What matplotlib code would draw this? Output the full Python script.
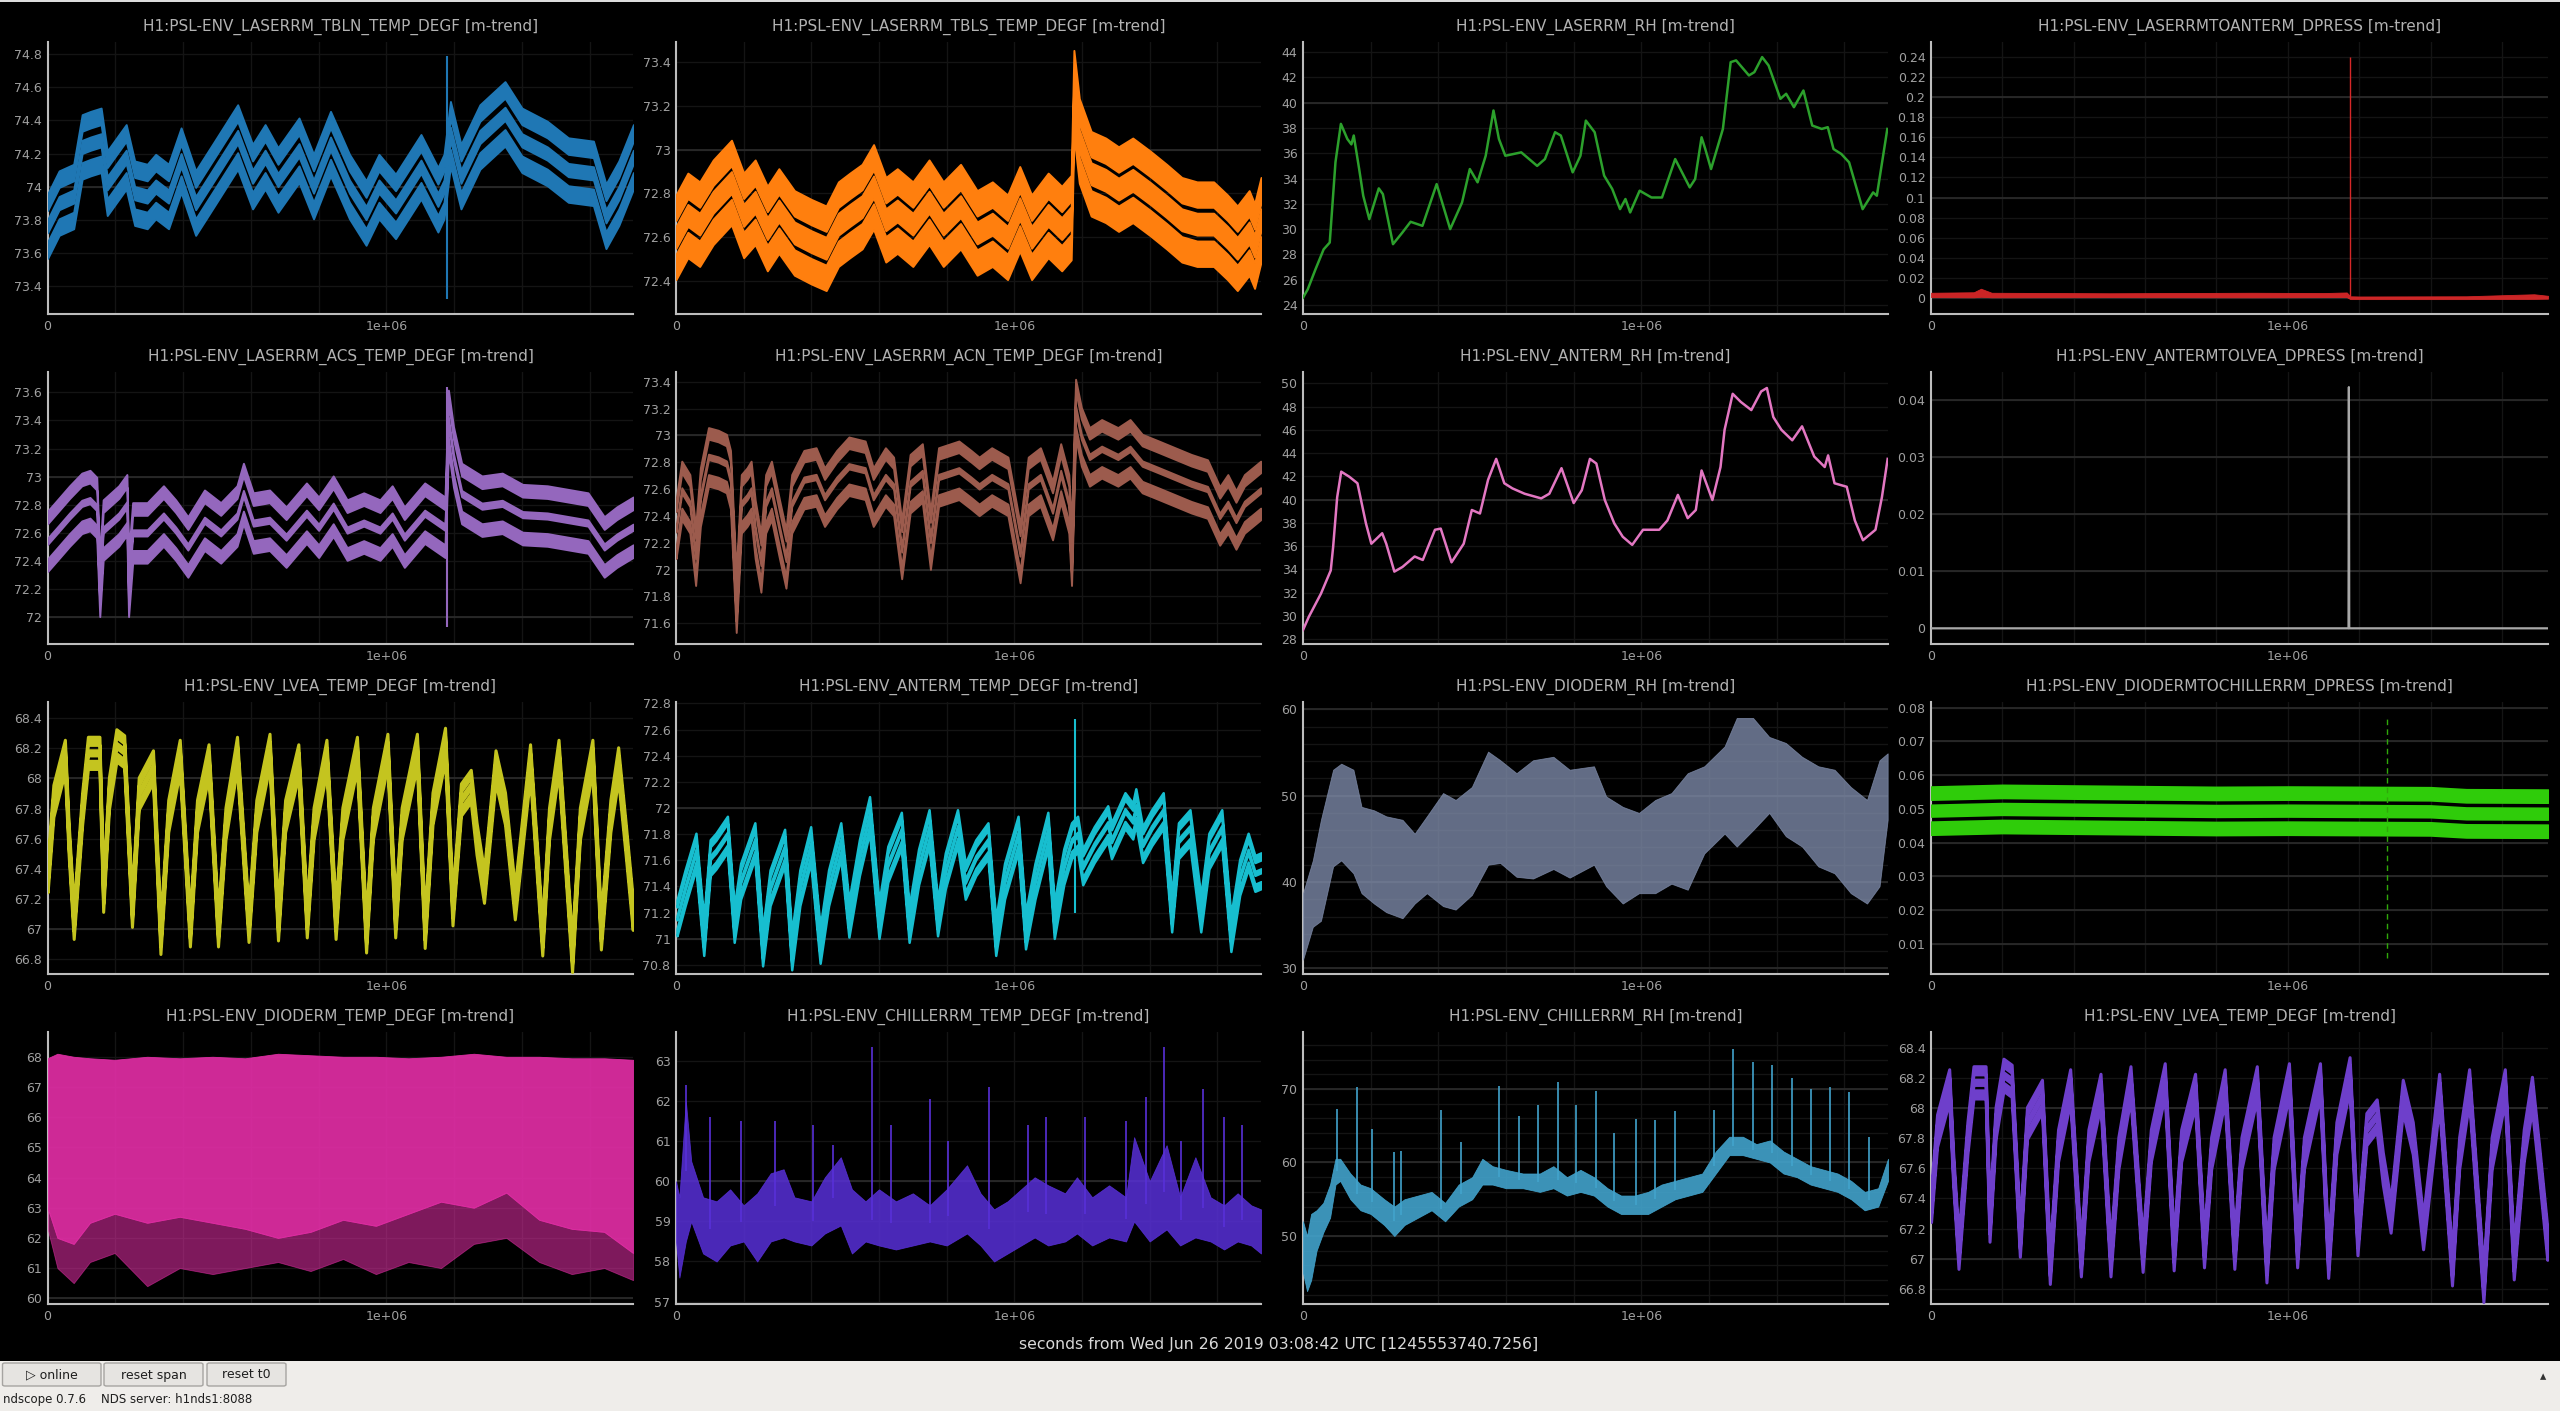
"""ndscope-style 4x4 grid of PSL environment minute trends, redrawn with matplotlib.

Values were read off a screenshot by eye; times are in units of 1e6 s
from the ndscope t0, values in the channel's own units.
"""
import matplotlib
matplotlib.use("Agg")
import matplotlib.pyplot as plt
import matplotlib.patches as mpatches
import matplotlib.ticker as mticker
import numpy as np

W, H, DPI = 2560, 1411, 100
T_END = 1.729e6

# ---- data (t in 1e6 s) -------------------------------------------------------
TBLN_T = [0.000, 0.034, 0.077, 0.102, 0.127, 0.158, 0.176, 0.232, 0.257, 0.294,
          0.319, 0.357, 0.394, 0.437, 0.493, 0.561, 0.605, 0.642, 0.680, 0.742,
          0.785, 0.835, 0.891, 0.940, 0.978, 1.027, 1.102, 1.152, 1.170, 1.189,
          1.220, 1.276, 1.350, 1.400, 1.475, 1.537, 1.611, 1.648, 1.686, 1.729]
TBLN_MEAN = [73.76, 73.90, 73.94, 74.24, 74.26, 74.28, 74.02, 74.18, 73.96, 73.94,
             74.00, 73.94, 74.16, 73.90, 74.08, 74.30, 74.06, 74.18, 74.04, 74.22,
             74.00, 74.26, 74.00, 73.84, 74.00, 73.88, 74.12, 73.92, 74.00, 74.32,
             74.06, 74.30, 74.44, 74.28, 74.20, 74.10, 74.08, 73.82, 73.96, 74.18]
TBLN_SPIKE_T, TBLN_SPIKE_LO, TBLN_SPIKE_HI = [1.179], [73.32], [74.79]

TBLS_T = [0.000, 0.035, 0.070, 0.110, 0.164, 0.200, 0.234, 0.270, 0.304, 0.350,
          0.400, 0.444, 0.480, 0.514, 0.550, 0.584, 0.620, 0.654, 0.700, 0.748,
          0.790, 0.841, 0.890, 0.935, 0.980, 1.016, 1.051, 1.100, 1.140, 1.168,
          1.176, 1.192, 1.227, 1.270, 1.308, 1.350, 1.402, 1.450, 1.495, 1.540,
          1.589, 1.630, 1.659, 1.694, 1.710, 1.729]
TBLS_MEAN = [72.60, 72.70, 72.66, 72.76, 72.85, 72.70, 72.76, 72.64, 72.72, 72.62,
             72.58, 72.55, 72.66, 72.70, 72.74, 72.83, 72.68, 72.72, 72.66, 72.76,
             72.66, 72.74, 72.62, 72.66, 72.60, 72.73, 72.60, 72.70, 72.64, 72.69,
             73.26, 73.04, 72.89, 72.86, 72.82, 72.86, 72.80, 72.74, 72.68, 72.66,
             72.66, 72.60, 72.55, 72.62, 72.56, 72.68]

LRH_T = [0.000, 0.014, 0.037, 0.061, 0.079, 0.084, 0.096, 0.112, 0.131, 0.143,
         0.150, 0.166, 0.178, 0.196, 0.224, 0.236, 0.266, 0.294, 0.318, 0.353,
         0.395, 0.435, 0.470, 0.493, 0.516, 0.540, 0.563, 0.579, 0.598, 0.645,
         0.692, 0.715, 0.745, 0.762, 0.797, 0.820, 0.836, 0.862, 0.890, 0.914,
         0.937, 0.953, 0.967, 0.995, 1.030, 1.061, 1.100, 1.143, 1.159, 1.178,
         1.189, 1.206, 1.241, 1.264, 1.280, 1.318, 1.334, 1.357, 1.376, 1.411,
         1.428, 1.451, 1.479, 1.505, 1.533, 1.551, 1.568, 1.591, 1.614, 1.654,
         1.685, 1.696, 1.727]
LRH_V = [24.58, 25.24, 26.83, 28.40, 28.94, 30.80, 35.30, 38.32, 37.13, 36.70,
         37.40, 34.75, 32.64, 30.79, 33.22, 32.77, 28.81, 29.74, 30.58, 30.26,
         33.56, 30.00, 32.10, 34.75, 33.70, 35.80, 39.38, 37.13, 35.80, 36.07,
         35.00, 35.54, 37.66, 37.40, 34.49, 35.80, 38.58, 37.66, 34.23, 33.17,
         31.58, 32.38, 31.32, 33.04, 32.50, 32.50, 35.54, 33.30, 33.96, 37.26,
         36.33, 34.75, 37.92, 43.20, 43.34, 42.15, 42.41, 43.60, 42.94, 40.30,
         40.70, 39.64, 40.96, 38.19, 37.92, 38.06, 36.33, 35.94, 35.28, 31.58,
         32.90, 32.64, 37.92]

DP1_T = [0.000, 0.120, 0.140, 0.170, 0.500, 0.900, 1.100, 1.165, 1.175, 1.200,
         1.500, 1.690, 1.729]
DP1_LO = [0.0012, 0.0010, 0.0015, 0.0010, 0.0012, 0.0010, 0.0012, 0.0012, -0.0008,
          -0.0008, -0.0008, -0.0006, -0.0004]
DP1_HI = [0.0055, 0.0060, 0.0095, 0.0055, 0.0050, 0.0055, 0.0052, 0.0058, 0.0020,
          0.0018, 0.0020, 0.0040, 0.0025]
DP1_SPIKE_T, DP1_SPIKE_LO, DP1_SPIKE_HI = [1.173], [0.002], [0.240]

ACS_T = [0.000, 0.029, 0.065, 0.101, 0.125, 0.145, 0.154, 0.164, 0.210, 0.234,
         0.239, 0.251, 0.294, 0.342, 0.378, 0.414, 0.463, 0.511, 0.559, 0.578,
         0.607, 0.655, 0.704, 0.764, 0.800, 0.843, 0.884, 0.933, 0.981, 1.017,
         1.053, 1.113, 1.173, 1.183, 1.198, 1.222, 1.282, 1.342, 1.402, 1.475,
         1.547, 1.595, 1.643, 1.680, 1.728]
ACS_MEAN = [72.54, 72.62, 72.72, 72.81, 72.83, 72.78, 72.22, 72.62, 72.72, 72.80,
            72.22, 72.60, 72.60, 72.72, 72.62, 72.50, 72.69, 72.60, 72.72, 72.88,
            72.67, 72.69, 72.57, 72.74, 72.64, 72.79, 72.62, 72.67, 72.62, 72.72,
            72.57, 72.74, 72.64, 73.40, 73.14, 72.88, 72.79, 72.81, 72.73, 72.72,
            72.69, 72.67, 72.50, 72.57, 72.64]
ACS_SPIKE_T, ACS_SPIKE_LO, ACS_SPIKE_HI = [1.178], [71.93], [73.64]

ACN_T = [0.000, 0.017, 0.041, 0.058, 0.072, 0.096, 0.125, 0.149, 0.161, 0.178,
         0.193, 0.210, 0.222, 0.234, 0.251, 0.265, 0.282, 0.306, 0.325, 0.342,
         0.378, 0.414, 0.439, 0.475, 0.511, 0.559, 0.583, 0.619, 0.643, 0.667,
         0.692, 0.728, 0.752, 0.776, 0.836, 0.872, 0.896, 0.933, 0.981, 1.017,
         1.041, 1.077, 1.113, 1.137, 1.161, 1.169, 1.181, 1.198, 1.222, 1.258,
         1.306, 1.342, 1.378, 1.427, 1.475, 1.523, 1.571, 1.607, 1.631, 1.655,
         1.680, 1.728]
ACN_MEAN = [72.30, 72.59, 72.49, 72.10, 72.54, 72.84, 72.82, 72.79, 72.67, 71.75,
            72.49, 72.54, 72.59, 72.30, 72.05, 72.49, 72.59, 72.30, 72.08, 72.49,
            72.67, 72.69, 72.54, 72.67, 72.77, 72.74, 72.54, 72.69, 72.62, 72.15,
            72.64, 72.72, 72.22, 72.69, 72.74, 72.67, 72.62, 72.69, 72.62, 72.12,
            72.62, 72.69, 72.44, 72.72, 72.49, 72.10, 73.20, 72.99, 72.84, 72.90,
            72.84, 72.90, 72.79, 72.74, 72.69, 72.64, 72.60, 72.40, 72.49, 72.37,
            72.49, 72.59]

ARH_T = [0.000, 0.017, 0.053, 0.082, 0.089, 0.101, 0.113, 0.137, 0.161, 0.186,
         0.202, 0.234, 0.246, 0.270, 0.294, 0.330, 0.354, 0.390, 0.407, 0.439,
         0.475, 0.499, 0.523, 0.547, 0.571, 0.595, 0.619, 0.655, 0.704, 0.728,
         0.764, 0.800, 0.824, 0.848, 0.867, 0.892, 0.920, 0.945, 0.973, 1.005,
         1.053, 1.077, 1.108, 1.137, 1.161, 1.178, 1.210, 1.234, 1.246, 1.270,
         1.294, 1.325, 1.354, 1.371, 1.390, 1.414, 1.446, 1.475, 1.511, 1.542,
         1.552, 1.571, 1.607, 1.631, 1.655, 1.692, 1.711, 1.728]
ARH_V = [28.77, 29.90, 31.90, 33.90, 35.90, 40.20, 42.40, 41.96, 41.40, 37.95,
         36.20, 37.10, 36.20, 33.80, 34.20, 35.10, 34.80, 37.40, 37.50, 34.60,
         36.20, 39.10, 38.80, 41.70, 43.50, 41.40, 40.96, 40.50, 40.10, 40.50,
         42.70, 39.70, 40.80, 43.50, 43.10, 39.96, 37.95, 36.80, 36.10, 37.40,
         37.40, 38.20, 40.40, 38.40, 39.10, 42.50, 39.96, 42.80, 46.00, 49.10,
         48.40, 47.70, 49.30, 49.60, 47.10, 46.00, 45.10, 46.30, 43.70, 42.80,
         43.80, 41.40, 41.10, 38.20, 36.50, 37.40, 40.20, 43.50]

DP2_T = [0.000, 1.170, 1.171, 1.172, 1.729]
DP2_V = [0.0, 0.0, 0.0423, 0.0, 0.0]

LVEA_T = [0.000, 0.017, 0.051, 0.062, 0.077, 0.102, 0.119, 0.153, 0.164, 0.181,
          0.203, 0.226, 0.249, 0.269, 0.311, 0.333, 0.356, 0.390, 0.420, 0.441,
          0.475, 0.503, 0.525, 0.559, 0.593, 0.616, 0.655, 0.680, 0.701, 0.740,
          0.765, 0.785, 0.823, 0.850, 0.870, 0.913, 0.940, 0.960, 1.003, 1.026,
          1.045, 1.090, 1.113, 1.136, 1.173, 1.195, 1.220, 1.249, 1.266, 1.288,
          1.322, 1.350, 1.379, 1.424, 1.460, 1.480, 1.508, 1.548, 1.571, 1.608,
          1.633, 1.661, 1.684, 1.706, 1.727]
LVEA_MEAN = [67.35, 67.85, 68.15, 67.60, 67.04, 67.80, 68.17, 68.17, 67.22, 67.90,
             68.22, 68.18, 67.12, 67.90, 68.08, 66.94, 67.75, 68.15, 66.99, 67.75,
             68.12, 66.99, 67.70, 68.17, 67.02, 67.75, 68.19, 67.03, 67.75, 68.12,
             67.05, 67.70, 68.15, 67.04, 67.70, 68.17, 66.95, 67.70, 68.19, 67.05,
             67.70, 68.19, 66.98, 67.80, 68.23, 67.13, 67.86, 67.95, 67.60, 67.28,
             68.08, 67.80, 67.17, 68.12, 66.93, 67.70, 68.15, 66.82, 67.70, 68.15,
             66.97, 67.75, 68.10, 67.60, 67.10]

ATEMP_T = [0.003, 0.027, 0.059, 0.082, 0.101, 0.118, 0.152, 0.172, 0.191, 0.233,
           0.256, 0.278, 0.321, 0.342, 0.366, 0.398, 0.426, 0.451, 0.487, 0.511,
           0.542, 0.572, 0.600, 0.626, 0.666, 0.689, 0.717, 0.748, 0.773, 0.796,
           0.832, 0.855, 0.886, 0.922, 0.945, 0.971, 1.011, 1.033, 1.061, 1.099,
           1.118, 1.146, 1.169, 1.187, 1.202, 1.236, 1.276, 1.287, 1.327, 1.350,
           1.359, 1.379, 1.406, 1.440, 1.465, 1.485, 1.519, 1.551, 1.575, 1.613,
           1.640, 1.666, 1.691, 1.711, 1.729]
ATEMP_MEAN = [71.16, 71.39, 71.67, 71.01, 71.62, 71.67, 71.80, 71.11, 71.44, 71.75,
              70.93, 71.39, 71.70, 70.90, 71.39, 71.72, 70.95, 71.39, 71.75, 71.15,
              71.62, 71.95, 71.14, 71.57, 71.83, 71.11, 71.55, 71.85, 71.16, 71.52,
              71.85, 71.44, 71.62, 71.75, 71.01, 71.44, 71.80, 71.06, 71.44, 71.83,
              71.14, 71.55, 71.75, 71.80, 71.55, 71.72, 71.88, 71.75, 71.98, 71.90,
              72.01, 71.72, 71.85, 71.98, 71.19, 71.75, 71.85, 71.19, 71.67, 71.85,
              71.04, 71.47, 71.67, 71.50, 71.52]
ATEMP_SPIKE_T, ATEMP_SPIKE_LO, ATEMP_SPIKE_HI = [1.178], [71.20], [72.68]

DRH_T = [0.000, 0.029, 0.053, 0.089, 0.113, 0.149, 0.173, 0.210, 0.246, 0.294,
         0.330, 0.366, 0.414, 0.451, 0.499, 0.547, 0.583, 0.631, 0.680, 0.740,
         0.788, 0.860, 0.896, 0.945, 0.993, 1.041, 1.089, 1.137, 1.186, 1.246,
         1.282, 1.330, 1.378, 1.427, 1.475, 1.523, 1.571, 1.619, 1.667, 1.704,
         1.728]
DRH_HI = [38.7, 42.5, 47.2, 53.0, 53.7, 53.0, 48.7, 48.3, 47.6, 47.2,
          45.6, 47.6, 50.3, 49.5, 51.0, 55.1, 54.1, 52.6, 54.1, 54.5,
          53.0, 53.4, 49.9, 48.7, 48.0, 49.5, 50.3, 52.6, 53.4, 55.7,
          59.0, 59.0, 56.8, 56.1, 54.5, 53.4, 53.0, 51.0, 49.5, 54.1,
          54.9]
DRH_LO = [31.0, 34.8, 35.5, 41.8, 42.5, 41.0, 38.7, 37.5, 36.5, 35.8,
          37.5, 38.7, 37.2, 36.8, 38.5, 42.0, 42.2, 40.6, 40.4, 41.5,
          40.5, 42.0, 39.5, 37.5, 38.7, 38.7, 39.8, 39.1, 43.3, 45.6,
          44.1, 46.0, 48.0, 45.3, 44.1, 41.8, 41.0, 38.7, 37.5, 39.5,
          47.2]

DP3_T = [0.0, 0.2, 0.4, 0.6, 0.8, 1.0, 1.2, 1.4, 1.5, 1.729]
DP3_MEAN = [0.0495, 0.0500, 0.0498, 0.0496, 0.0494, 0.0495, 0.0494, 0.0493, 0.0487, 0.0486]
DP3_GLITCH_T, DP3_GLITCH_LO, DP3_GLITCH_HI = [1.277], [0.0058], [0.0773]

DTEMP_T = [0.000, 0.029, 0.077, 0.125, 0.198, 0.294, 0.390, 0.487, 0.583, 0.680,
           0.776, 0.872, 0.969, 1.065, 1.161, 1.258, 1.354, 1.451, 1.547, 1.643,
           1.728]
DTEMP_HI = [67.95, 68.10, 68.00, 67.95, 67.90, 68.00, 67.95, 68.00, 67.95, 68.10,
            68.05, 68.00, 68.00, 67.95, 68.00, 68.10, 68.00, 68.00, 67.95, 67.95,
            67.90]
DTEMP_LO = [63.0, 62.0, 61.8, 62.5, 62.8, 62.5, 62.7, 62.5, 62.3, 62.0,
            62.2, 62.6, 62.4, 62.8, 63.2, 63.0, 63.5, 62.6, 62.3, 62.2,
            61.5]
DTEMP_MIN = [62.3, 61.0, 60.5, 61.2, 61.5, 60.4, 61.0, 60.8, 61.0, 61.2,
             60.9, 61.3, 60.8, 61.2, 61.0, 61.8, 62.0, 61.2, 60.8, 61.0,
             60.6]

CTEMP_T = [0.000, 0.010, 0.029, 0.045, 0.080, 0.120, 0.160, 0.200, 0.240, 0.280,
           0.318, 0.350, 0.400, 0.440, 0.487, 0.520, 0.560, 0.600, 0.650, 0.700,
           0.750, 0.800, 0.860, 0.900, 0.940, 0.980, 1.020, 1.060, 1.100, 1.150,
           1.185, 1.230, 1.280, 1.330, 1.354, 1.400, 1.450, 1.490, 1.535, 1.580,
           1.620, 1.660, 1.700, 1.729]
CTEMP_LO = [58.5, 57.6, 58.5, 59.0, 58.2, 58.0, 58.4, 58.5, 58.0, 58.5,
            58.6, 58.5, 58.4, 58.7, 58.9, 58.2, 58.5, 58.4, 58.3, 58.4,
            58.5, 58.4, 58.7, 58.4, 58.0, 58.2, 58.4, 58.6, 58.4, 58.5,
            58.7, 58.4, 58.6, 58.5, 59.0, 58.5, 58.8, 58.4, 58.6, 58.5,
            58.3, 58.5, 58.4, 58.2]
CTEMP_HI = [60.0, 59.6, 62.0, 60.5, 59.6, 59.5, 59.8, 59.4, 59.7, 60.2,
            60.3, 59.6, 59.5, 60.1, 60.6, 59.8, 59.5, 59.8, 59.5, 59.7,
            59.4, 59.8, 60.4, 59.7, 59.3, 59.5, 59.8, 60.1, 59.9, 59.7,
            60.1, 59.6, 59.9, 59.6, 61.1, 60.0, 60.9, 59.6, 60.6, 59.6,
            59.4, 59.7, 59.4, 59.3]
CTEMP_SPIKE_T = [0.029, 0.101, 0.193, 0.294, 0.405, 0.463, 0.578, 0.636, 0.752, 0.805,
                 0.925, 1.041, 1.094, 1.210, 1.330, 1.390, 1.441, 1.492, 1.557, 1.619,
                 1.672]
CTEMP_SPIKE_HI = [62.4, 61.6, 61.5, 61.5, 61.4, 60.9, 63.35, 61.4, 62.05, 61.0,
                  62.35, 61.4, 61.6, 61.6, 61.5, 62.1, 63.35, 61.0, 62.3, 61.6,
                  61.4]

CRH_T = [0.000, 0.012, 0.024, 0.040, 0.060, 0.080, 0.096, 0.110, 0.140, 0.170,
         0.200, 0.240, 0.270, 0.300, 0.340, 0.380, 0.420, 0.460, 0.500, 0.530,
         0.560, 0.600, 0.650, 0.700, 0.740, 0.780, 0.820, 0.860, 0.900, 0.940,
         0.980, 1.020, 1.060, 1.100, 1.140, 1.180, 1.220, 1.260, 1.300, 1.340,
         1.380, 1.420, 1.460, 1.500, 1.540, 1.580, 1.620, 1.660, 1.700, 1.729]
CRH_LO = [45.0, 42.5, 44.0, 48.0, 50.5, 52.5, 57.0, 57.5, 55.0, 53.5,
          53.0, 51.5, 50.0, 51.5, 52.5, 53.5, 52.0, 54.0, 55.0, 57.0,
          57.0, 56.5, 56.5, 56.0, 56.5, 55.5, 56.0, 55.5, 54.0, 53.0,
          53.0, 53.0, 54.0, 55.0, 55.5, 56.0, 58.5, 61.0, 61.0, 60.5,
          60.0, 58.5, 58.0, 57.0, 56.5, 56.0, 55.0, 53.5, 54.0, 57.5]
CRH_HI = [52.0, 50.0, 53.0, 53.5, 54.5, 57.0, 60.5, 60.5, 58.5, 57.0,
          56.5, 55.0, 54.0, 55.0, 55.5, 56.0, 54.5, 57.0, 58.0, 60.5,
          59.5, 59.0, 58.5, 58.5, 59.5, 58.0, 59.0, 58.0, 56.5, 55.5,
          55.5, 56.0, 57.0, 57.5, 58.0, 58.5, 61.5, 63.5, 63.5, 62.5,
          63.0, 61.5, 60.5, 59.5, 59.0, 58.5, 57.5, 56.0, 56.5, 60.5]
CRH_SPIKE_T = [0.101, 0.161, 0.205, 0.270, 0.289, 0.407, 0.467, 0.578, 0.639, 0.694,
               0.754, 0.807, 0.867, 0.918, 0.983, 1.041, 1.099, 1.214, 1.270, 1.330,
               1.386, 1.446, 1.501, 1.559, 1.614, 1.672]
CRH_SPIKE_HI = [67.3, 70.3, 64.5, 61.4, 61.5, 67.2, 62.8, 70.4, 66.3, 67.8,
                71.0, 67.8, 69.7, 64.0, 65.9, 65.8, 67.0, 67.2, 75.5, 73.7,
                73.3, 71.5, 70.0, 70.3, 69.6, 63.5]

# ---- layout (pixels of the 2560x1411 canvas) ---------------------------------
COL_X = [(47.6, 633.4), (676.0, 1261.0), (1303.0, 1888.0), (1931.0, 2548.0)]
ROW_Y = [(42.3, 314.0), (372.3, 644.0), (702.3, 974.0), (1032.3, 1304.0)]

GRID_MINOR = "#141414"
GRID_MAJOR = "#2c2c2c"
SPINE = "#bdbdbd"
TICK_TXT = "#a0a0a0"
TITLE_TXT = "#b2b2b2"


def ticks(lo, hi, step):
    return np.round(np.arange(lo, hi + step / 2, step), 6)


def fmt(v, _=None):
    return f"{round(v, 6):.6g}"


def panel(fig, row, col, title, ylim, yticks, grid_step, majors):
    x0, x1 = COL_X[col]
    y0, y1 = ROW_Y[row]
    ax = fig.add_axes([x0 / W, 1 - y1 / H, (x1 - x0) / W, (y1 - y0) / H])
    ax.set_facecolor("black")
    ax.set_xlim(0, T_END)
    ax.set_ylim(*ylim)

    # pyqtgraph-like grid: faint minor lines, brighter major ones
    for gx in np.arange(2e5, T_END, 2e5):
        ax.axvline(gx, color=GRID_MINOR, lw=1.0, zorder=0)
    g0 = np.ceil(ylim[0] / grid_step) * grid_step
    for gy in np.round(np.arange(g0, ylim[1], grid_step), 6):
        ax.axhline(gy, color=GRID_MINOR, lw=1.0, zorder=0)
    for gy in majors:
        ax.axhline(gy, color=GRID_MAJOR, lw=1.2, zorder=0.5)

    ax.set_yticks(yticks)
    ax.yaxis.set_major_formatter(mticker.FuncFormatter(fmt))
    ax.set_xticks([0, 1e6])
    ax.set_xticklabels(["0", "1e+06"])
    ax.tick_params(length=0, colors=TICK_TXT, labelsize=9, pad=4)
    for s in ("top", "right"):
        ax.spines[s].set_visible(False)
    for s in ("left", "bottom"):
        ax.spines[s].set_color(SPINE)
        ax.spines[s].set_linewidth(1.5)

    fig.text((x0 + x1) / 2 / W, 1 - (y0 - 15.6) / H, title,
             ha="center", va="center", color=TITLE_TXT, fontsize=11)
    return ax


def sec(t):
    return np.asarray(t) * 1e6


def draw_bands(ax, t, mean, spread, half, mid_half, color, edge=1.4):
    """min / mean / max minute-trend curves, each drawn as a noisy-looking band."""
    ts, m = sec(t), np.asarray(mean)
    for off, h in ((spread, half), (0.0, mid_half), (-spread, half)):
        ax.fill_between(ts, m + off - h, m + off + h, color=color, lw=edge, zorder=3)


def draw_envelope(ax, t, lo, hi, color, alpha=0.85):
    ax.fill_between(sec(t), lo, hi, color=color, alpha=alpha, lw=0.6, zorder=3)


def draw_line(ax, t, v, color, lw=1.5):
    ax.plot(sec(t), v, color=color, lw=lw, zorder=3)


def draw_spikes(ax, t, lo, hi, color, lw=1.2, **kw):
    ax.vlines(sec(t), lo, hi, colors=color, lw=lw, zorder=4, **kw)


def chrome(fig):
    """Qt window furniture around the plot grid."""
    def rect(x0, y0, x1, y1, **kw):
        fig.add_artist(mpatches.Rectangle((x0 / W, 1 - y1 / H), (x1 - x0) / W,
                                          (y1 - y0) / H, transform=fig.transFigure, **kw))

    rect(0, 0, W, 2, color="#dcdcdc", lw=0)
    rect(0, 1361, W, H, color="#efedea", lw=0)
    for (bx0, bx1), label in zip([(2.5, 101), (104, 203), (207, 286)],
                                 ["▷ online", "reset span", "reset t0"]):
        fig.add_artist(mpatches.FancyBboxPatch(
            (bx0 / W, 1 - 1386 / H), (bx1 - bx0) / W, 23 / H,
            boxstyle="round,pad=0,rounding_size=0.001", transform=fig.transFigure,
            facecolor="#e6e4e1", edgecolor="#a6a4a1", lw=1.0))
        fig.text((bx0 + bx1) / 2 / W, 1 - 1375 / H, label, ha="center", va="center",
                 fontsize=9, color="#1e1e1e")
    fig.text(3 / W, 1 - 1400 / H, "ndscope 0.7.6    NDS server: h1nds1:8088",
             ha="left", va="center", fontsize=8.5, color="#1e1e1e")
    fig.text(2543 / W, 1 - 1377 / H, "▴", ha="center", va="center",
             fontsize=9, color="#333333")


def main():
    plt.rcParams["font.family"] = ["DejaVu Sans"]
    fig = plt.figure(figsize=(W / DPI, H / DPI), dpi=DPI, facecolor="black")

    # row 1
    ax = panel(fig, 0, 0, "H1:PSL-ENV_LASERRM_TBLN_TEMP_DEGF [m-trend]",
               (73.229, 74.873), ticks(73.4, 74.8, 0.2), 0.2, [74])
    draw_bands(ax, TBLN_T, TBLN_MEAN, 0.145, 0.05, 0.04, "#1f77b4")
    draw_spikes(ax, TBLN_SPIKE_T, TBLN_SPIKE_LO, TBLN_SPIKE_HI, "#1f77b4", 1.5)

    ax = panel(fig, 0, 1, "H1:PSL-ENV_LASERRM_TBLS_TEMP_DEGF [m-trend]",
               (72.25, 73.49), ticks(72.4, 73.4, 0.2), 0.2, [73])
    draw_bands(ax, TBLS_T, TBLS_MEAN, 0.135, 0.058, 0.05, "#ff7f0e")

    ax = panel(fig, 0, 2, "H1:PSL-ENV_LASERRM_RH [m-trend]",
               (23.29, 44.77), ticks(24, 44, 2), 2, [40])
    draw_line(ax, LRH_T, LRH_V, "#2ca02c", 1.8)

    ax = panel(fig, 0, 3, "H1:PSL-ENV_LASERRMTOANTERM_DPRESS [m-trend]",
               (-0.0156, 0.2543), ticks(0, 0.24, 0.02), 0.02, [0, 0.1, 0.2])
    draw_envelope(ax, DP1_T, DP1_LO, DP1_HI, "#d62728", 0.95)
    draw_spikes(ax, DP1_SPIKE_T, DP1_SPIKE_LO, DP1_SPIKE_HI, "#d62728", 1.0)

    # row 2
    ax = panel(fig, 1, 0, "H1:PSL-ENV_LASERRM_ACS_TEMP_DEGF [m-trend]",
               (71.81, 73.742), ticks(72, 73.6, 0.2), 0.2, [72, 73])
    draw_bands(ax, ACS_T, ACS_MEAN, 0.17, 0.045, 0.022, "#9467bd")
    draw_spikes(ax, ACS_SPIKE_T, ACS_SPIKE_LO, ACS_SPIKE_HI, "#9467bd", 1.5)

    ax = panel(fig, 1, 1, "H1:PSL-ENV_LASERRM_ACN_TEMP_DEGF [m-trend]",
               (71.446, 73.47), ticks(71.6, 73.4, 0.2), 0.2, [72, 73])
    draw_bands(ax, ACN_T, ACN_MEAN, 0.175, 0.043, 0.02, "#9c5b4d")

    ax = panel(fig, 1, 2, "H1:PSL-ENV_ANTERM_RH [m-trend]",
               (27.57, 50.95), ticks(28, 50, 2), 2, [40])
    draw_line(ax, ARH_T, ARH_V, "#e377c2", 1.8)

    ax = panel(fig, 1, 3, "H1:PSL-ENV_ANTERMTOLVEA_DPRESS [m-trend]",
               (-0.00275, 0.0449), ticks(0, 0.04, 0.01), 0.01,
               [0.01, 0.02, 0.03, 0.04])
    draw_line(ax, DP2_T, DP2_V, "#a8a8a8", 1.6)

    # row 3
    ax = panel(fig, 2, 0, "H1:PSL-ENV_LVEA_TEMP_DEGF [m-trend]",
               (66.70, 68.506), ticks(66.8, 68.4, 0.2), 0.2, [67, 68])
    draw_bands(ax, LVEA_T, LVEA_MEAN, 0.08, 0.027, 0.017, "#c4c41f", edge=2.2)

    ax = panel(fig, 2, 1, "H1:PSL-ENV_ANTERM_TEMP_DEGF [m-trend]",
               (70.731, 72.808), ticks(70.8, 72.8, 0.2), 0.2, [71, 72])
    draw_bands(ax, ATEMP_T, ATEMP_MEAN, 0.11, 0.027, 0.015, "#17becf", edge=1.8)
    draw_spikes(ax, ATEMP_SPIKE_T, ATEMP_SPIKE_LO, ATEMP_SPIKE_HI, "#17becf", 1.5)

    ax = panel(fig, 2, 2, "H1:PSL-ENV_DIODERM_RH [m-trend]",
               (29.34, 60.81), ticks(30, 60, 10), 2, [30, 40, 50, 60])
    draw_envelope(ax, DRH_T, DRH_LO, DRH_HI, "#7f8cab", 0.78)

    ax = panel(fig, 2, 3, "H1:PSL-ENV_DIODERMTOCHILLERRM_DPRESS [m-trend]",
               (0.0011, 0.0816), ticks(0.01, 0.08, 0.01), 0.01,
               list(ticks(0.01, 0.08, 0.01)))
    draw_bands(ax, DP3_T, DP3_MEAN, 0.0052, 0.0019, 0.0017, "#2fcc0a")
    draw_spikes(ax, DP3_GLITCH_T, DP3_GLITCH_LO, DP3_GLITCH_HI, "#2fa80a", 1.0,
                linestyles=(0, (4, 3)))

    # row 4
    ax = panel(fig, 3, 0, "H1:PSL-ENV_DIODERM_TEMP_DEGF [m-trend]",
               (59.81, 68.81), ticks(60, 68, 1), 1, [60])
    draw_envelope(ax, DTEMP_T, DTEMP_MIN, DTEMP_LO, "#e62ea8", 0.55)
    draw_envelope(ax, DTEMP_T, DTEMP_LO, DTEMP_HI, "#e62ea8", 0.9)

    ax = panel(fig, 3, 1, "H1:PSL-ENV_CHILLERRM_TEMP_DEGF [m-trend]",
               (56.94, 63.716), ticks(57, 63, 1), 1, [60])
    draw_envelope(ax, CTEMP_T, CTEMP_LO, CTEMP_HI, "#5830d8", 0.85)
    base = np.interp(CTEMP_SPIKE_T, CTEMP_T, (np.array(CTEMP_LO) + CTEMP_HI) / 2)
    draw_spikes(ax, CTEMP_SPIKE_T, base, CTEMP_SPIKE_HI, "#5830d8", 1.2)

    ax = panel(fig, 3, 2, "H1:PSL-ENV_CHILLERRM_RH [m-trend]",
               (40.75, 77.71), ticks(50, 70, 10), 2, [50, 60, 70])
    draw_envelope(ax, CRH_T, CRH_LO, CRH_HI, "#42a3cc", 0.9)
    base = np.interp(CRH_SPIKE_T, CRH_T, (np.array(CRH_LO) + CRH_HI) / 2)
    draw_spikes(ax, CRH_SPIKE_T, base, CRH_SPIKE_HI, "#42a3cc", 1.2)

    ax = panel(fig, 3, 3, "H1:PSL-ENV_LVEA_TEMP_DEGF [m-trend]",
               (66.70, 68.502), ticks(66.8, 68.4, 0.2), 0.2, [67, 68])
    draw_bands(ax, LVEA_T, LVEA_MEAN, 0.08, 0.027, 0.017, "#6e3fcb", edge=2.2)

    fig.text(1279 / W, 1 - 1344 / H,
             "seconds from Wed Jun 26 2019 03:08:42 UTC [1245553740.7256]",
             ha="center", va="center", color="#d8d8d8", fontsize=11.3)
    chrome(fig)

    fig.savefig("out.png", dpi=DPI, facecolor="black")
    plt.close(fig)


if __name__ == "__main__":
    main()
